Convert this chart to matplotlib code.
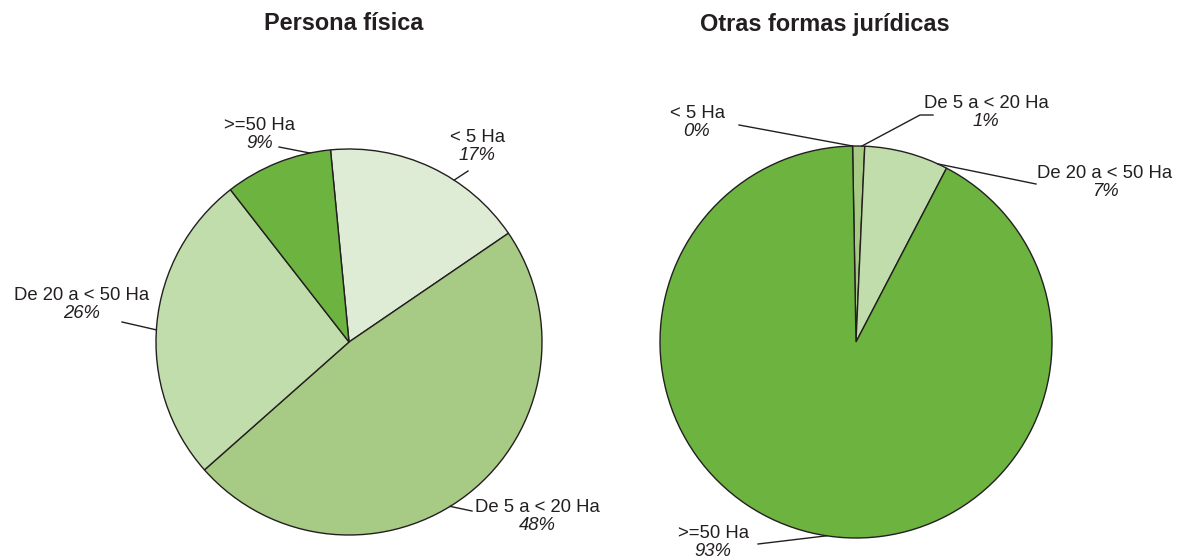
import numpy as np
import matplotlib.pyplot as plt

plt.rcParams['font.family'] = ['Liberation Sans', 'DejaVu Sans']

# Datos
categorias = ['< 5 Ha', 'De 5 a < 20 Ha', 'De 20 a < 50 Ha', '>=50 Ha']
persona_fisica = [17, 48, 26, 9]
otras_formas = [0, 1, 7, 93]

colores = ['#dfecd5', '#a7cb85', '#c2ddac', '#6cb33f']
borde = '#231f20'

W, H = 1177, 558

fig = plt.figure(figsize=(W / 100, H / 100), dpi=100)
ax = fig.add_axes([0, 0, 1, 1])


def py(y):
    # coordenada de pixel (desde arriba) a coordenada de datos
    return H - y


def dibujar_pie(valores, centro, radio, inicio, etiquetas):
    ax.pie(valores, colors=colores, startangle=inicio, counterclock=False,
           center=(centro[0], py(centro[1])), radius=radio,
           wedgeprops=dict(edgecolor=borde, linewidth=1.0))
    for cat, val, (tx, ty, lx, ly, ang, codo) in zip(categorias, valores, etiquetas):
        ax.text(tx, py(ty), cat, ha='center', va='center', fontsize=13.3, color=borde)
        ax.text(tx, py(ty + 18), f'{val}%', ha='center', va='center', fontsize=13.3,
                style='italic', color=borde)
        ex = centro[0] + radio * np.cos(np.radians(ang))
        ey = py(centro[1]) + radio * np.sin(np.radians(ang))
        xs = [lx] + ([codo] if codo else []) + [ex]
        ys = [py(ly)] + ([py(ly)] if codo else []) + [ey]
        ax.plot(xs, ys, color=borde, linewidth=1.0)


# posiciones de etiquetas: (texto x, texto y, inicio línea x, y, ángulo en el borde, codo)
etq_izq = [
    (477, 138, 468, 171, 57, None),
    (537, 508, 472, 511, -58.4, None),
    (82, 295, 122, 322, 176.4, None),
    (260, 125, 279, 147, 101.7, None),
]
etq_der = [
    (697, 113, 739, 125, 91, None),
    (986, 104, 933, 115, 88.3, 920),
    (1105, 173, 1036, 184, 65.3, None),
    (713, 533, 758, 544, -98.6, None),
]

dibujar_pie(persona_fisica, (349, 342), 193, 95.5, etq_izq)
dibujar_pie(otras_formas, (856, 342), 196, 91, etq_der)

titulo = dict(ha='center', va='center', fontsize=16.9, fontweight='bold', color=borde)
ax.text(344, py(24), 'Persona física', **titulo)
ax.text(825, py(24), 'Otras formas jurídicas', **titulo)

# los pies reajustan los ejes, así que se fijan al final
ax.set_xlim(0, W)
ax.set_ylim(0, H)
ax.set_aspect('equal')
ax.axis('off')

fig.savefig('out.png', dpi=100)
